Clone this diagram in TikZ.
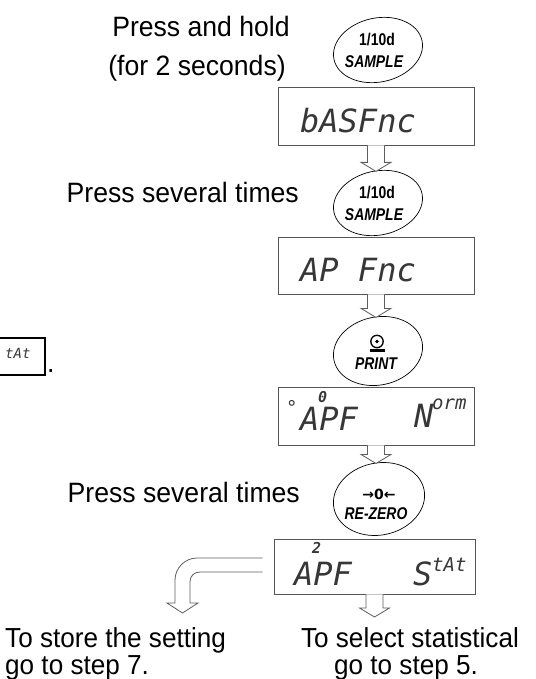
\documentclass[tikz,border=0pt]{standalone}
\usepackage{fontspec}
\setmainfont{Liberation Sans}
\newfontfamily\lblfont[FakeStretch=0.95]{Liberation Sans}
\newfontfamily\keyfont[FakeStretch=0.82]{Liberation Sans}
\newfontfamily\segfont{DejaVu Sans Mono}
\newfontfamily\symfont{DejaVu Sans}
\usetikzlibrary{shapes.geometric,calc}
\definecolor{dispgray}{RGB}{85,85,85}
\definecolor{arrgray}{RGB}{95,95,95}
\definecolor{segcol}{RGB}{55,55,55}
\newcommand\hollowarrow[2]{%
  \draw[arr] let \p1=(#1), \p2=(#2) in
    (\x1-8.5pt,\y1) -- (\x1-8.5pt,\y2+9pt) -- (\x1-15pt,\y2+9pt) -- (\x1,\y2)
    -- (\x1+15pt,\y2+9pt) -- (\x1+8.5pt,\y2+9pt) -- (\x1+8.5pt,\y1);}
\begin{document}
\begin{tikzpicture}[x=1pt,y=-1pt,
  lbl/.style={font=\lblfont\fontsize{28}{25}\selectfont, inner sep=0pt, text height=20pt, text depth=5pt},
  lblb/.style={font=\lblfont\fontsize{27.5}{25}\selectfont, inner sep=0pt, text height=19pt, text depth=5pt},
  disp/.style={draw=dispgray, line width=0.9pt, inner sep=0pt},
  keyell/.style={draw, ellipse, line width=0.7pt, inner sep=0pt, minimum width=90, minimum height=64, rotate=12},
  keytxt/.style={font=\keyfont\bfseries\fontsize{17}{20}\selectfont, inner sep=0pt},
  keyit/.style={font=\keyfont\bfseries\itshape\fontsize{17}{20}\selectfont, inner sep=0pt},
  seg/.style={font=\segfont\itshape\fontsize{32}{32}\selectfont, inner sep=0pt, anchor=base west, text=segcol},
  segsm/.style={font=\segfont\itshape\fontsize{19}{19}\selectfont, inner sep=0pt, anchor=base west, text=segcol},
  segtiny/.style={font=\segfont\bfseries\itshape\fontsize{15}{15}\selectfont, inner sep=0pt, anchor=base west, text=segcol},
  arr/.style={draw=arrgray, line width=0.8pt, fill=white, line join=miter}]
\useasboundingbox (0,0) rectangle (535,679);
\clip (0,0) rectangle (535,679);

% instructions
\node[lbl, anchor=base] (t1) at (201,37) {Press and hold};
\node[lbl, anchor=base] (t2) at (197,76) {(for 2 seconds)};
\node[lbl, anchor=base east] (t3) at (299,202) {Press several times};
\node[lbl, anchor=base east] (t4) at (300,502) {Press several times};
\node[lblb, anchor=base west] (t5) at (5,647) {To store the setting};
\node[lblb, anchor=base west] (t6) at (5,674) {go to step 7.};
\node[lblb, anchor=base] (t7) at (410,647) {To select statistical};
\node[lblb, anchor=base] (t8) at (406,674) {go to step 5.};

% keys
\node[keyell] (k1) at (378,50) {};
\node[keytxt] (k1a) at (377,40) {1/10d};
\node[keyit] (k1b) at (374,61.5) {SAMPLE};
\node[keyell] (k2) at (378,203) {};
\node[keytxt] (k2a) at (377,193) {1/10d};
\node[keyit] (k2b) at (374,214.5) {SAMPLE};
\node[keyell, minimum height=68] (k3) at (378,351) {};
\draw[line width=1.3pt] (377,341.5) circle [radius=6.2];
\fill (377,341.5) circle [radius=1.8];
\fill (370,348.5) rectangle (385,352);
\node[keyit] (k3a) at (376,364) {PRINT};
\node[keyell, minimum width=92, minimum height=72] (k4) at (379,499) {};
\node[keytxt, font=\symfont\bfseries\fontsize{14}{16}\selectfont] (k4a) at (379,494) {→0←};
\node[keyit] (k4b) at (376,513.5) {RE-ZERO};

% displays
\node[disp, minimum width=196, minimum height=58] (d1) at (376,116) {};
\node[seg] (s1) at (300,133) {bASFnc};
\node[disp, minimum width=196, minimum height=57] (d2) at (376,265.5) {};
\node[seg] (s2) at (300,281) {AP Fnc};
\node[disp, minimum width=196, minimum height=58] (d3) at (376,416) {};
\node[segsm] (s3a) at (286,414) {°};
\node[seg] (s3b) at (300,430) {APF};
\node[segtiny] (s3c) at (318,402) {0};
\node[seg] (s3d) at (414,427) {N};
\node[segsm] (s3e) at (432,409) {orm};
\node[disp, minimum width=201, minimum height=55] (d4) at (374.5,566.5) {};
\node[seg] (s4a) at (294,585) {APF};
\node[segtiny] (s4b) at (312,553) {2};
\node[seg] (s4c) at (413,585) {S};
\node[segsm] (s4d) at (432,571) {tAt};

% stray inline display at left edge
\node[draw, line width=1.4pt, minimum width=60, minimum height=37, inner sep=0pt] (sb) at (15,356.5) {};
\node[segsm, font=\segfont\itshape\fontsize{14}{14}\selectfont] (sbt) at (5,358) {tAt};
\node[font=\lblfont\fontsize{28}{25}\selectfont, inner sep=0pt, anchor=base west] (dot) at (47,372) {.};

% arrows
\hollowarrow{d1.south}{k2.north}
\hollowarrow{d2.south}{k3.north}
\hollowarrow{d3.south}{k4.north}
\coordinate (e1) at (376,617);
\hollowarrow{d4.south}{e1}

% bent arrow to the left
\coordinate (b1) at ($(d4.west)+(-11,-8.5)$);
\coordinate (b2) at ($(d4.west)+(-11,5.5)$);
\draw[arr] (b1) -- (197,558) .. controls (185,558) and (175,568) .. (175,580)
  -- (175,603) -- (167,603) -- (182.5,613) -- (198,603) -- (190,603) -- (190,582)
  .. controls (190,576) and (194,572) .. (200,572) -- (b2);
\end{tikzpicture}
\end{document}
